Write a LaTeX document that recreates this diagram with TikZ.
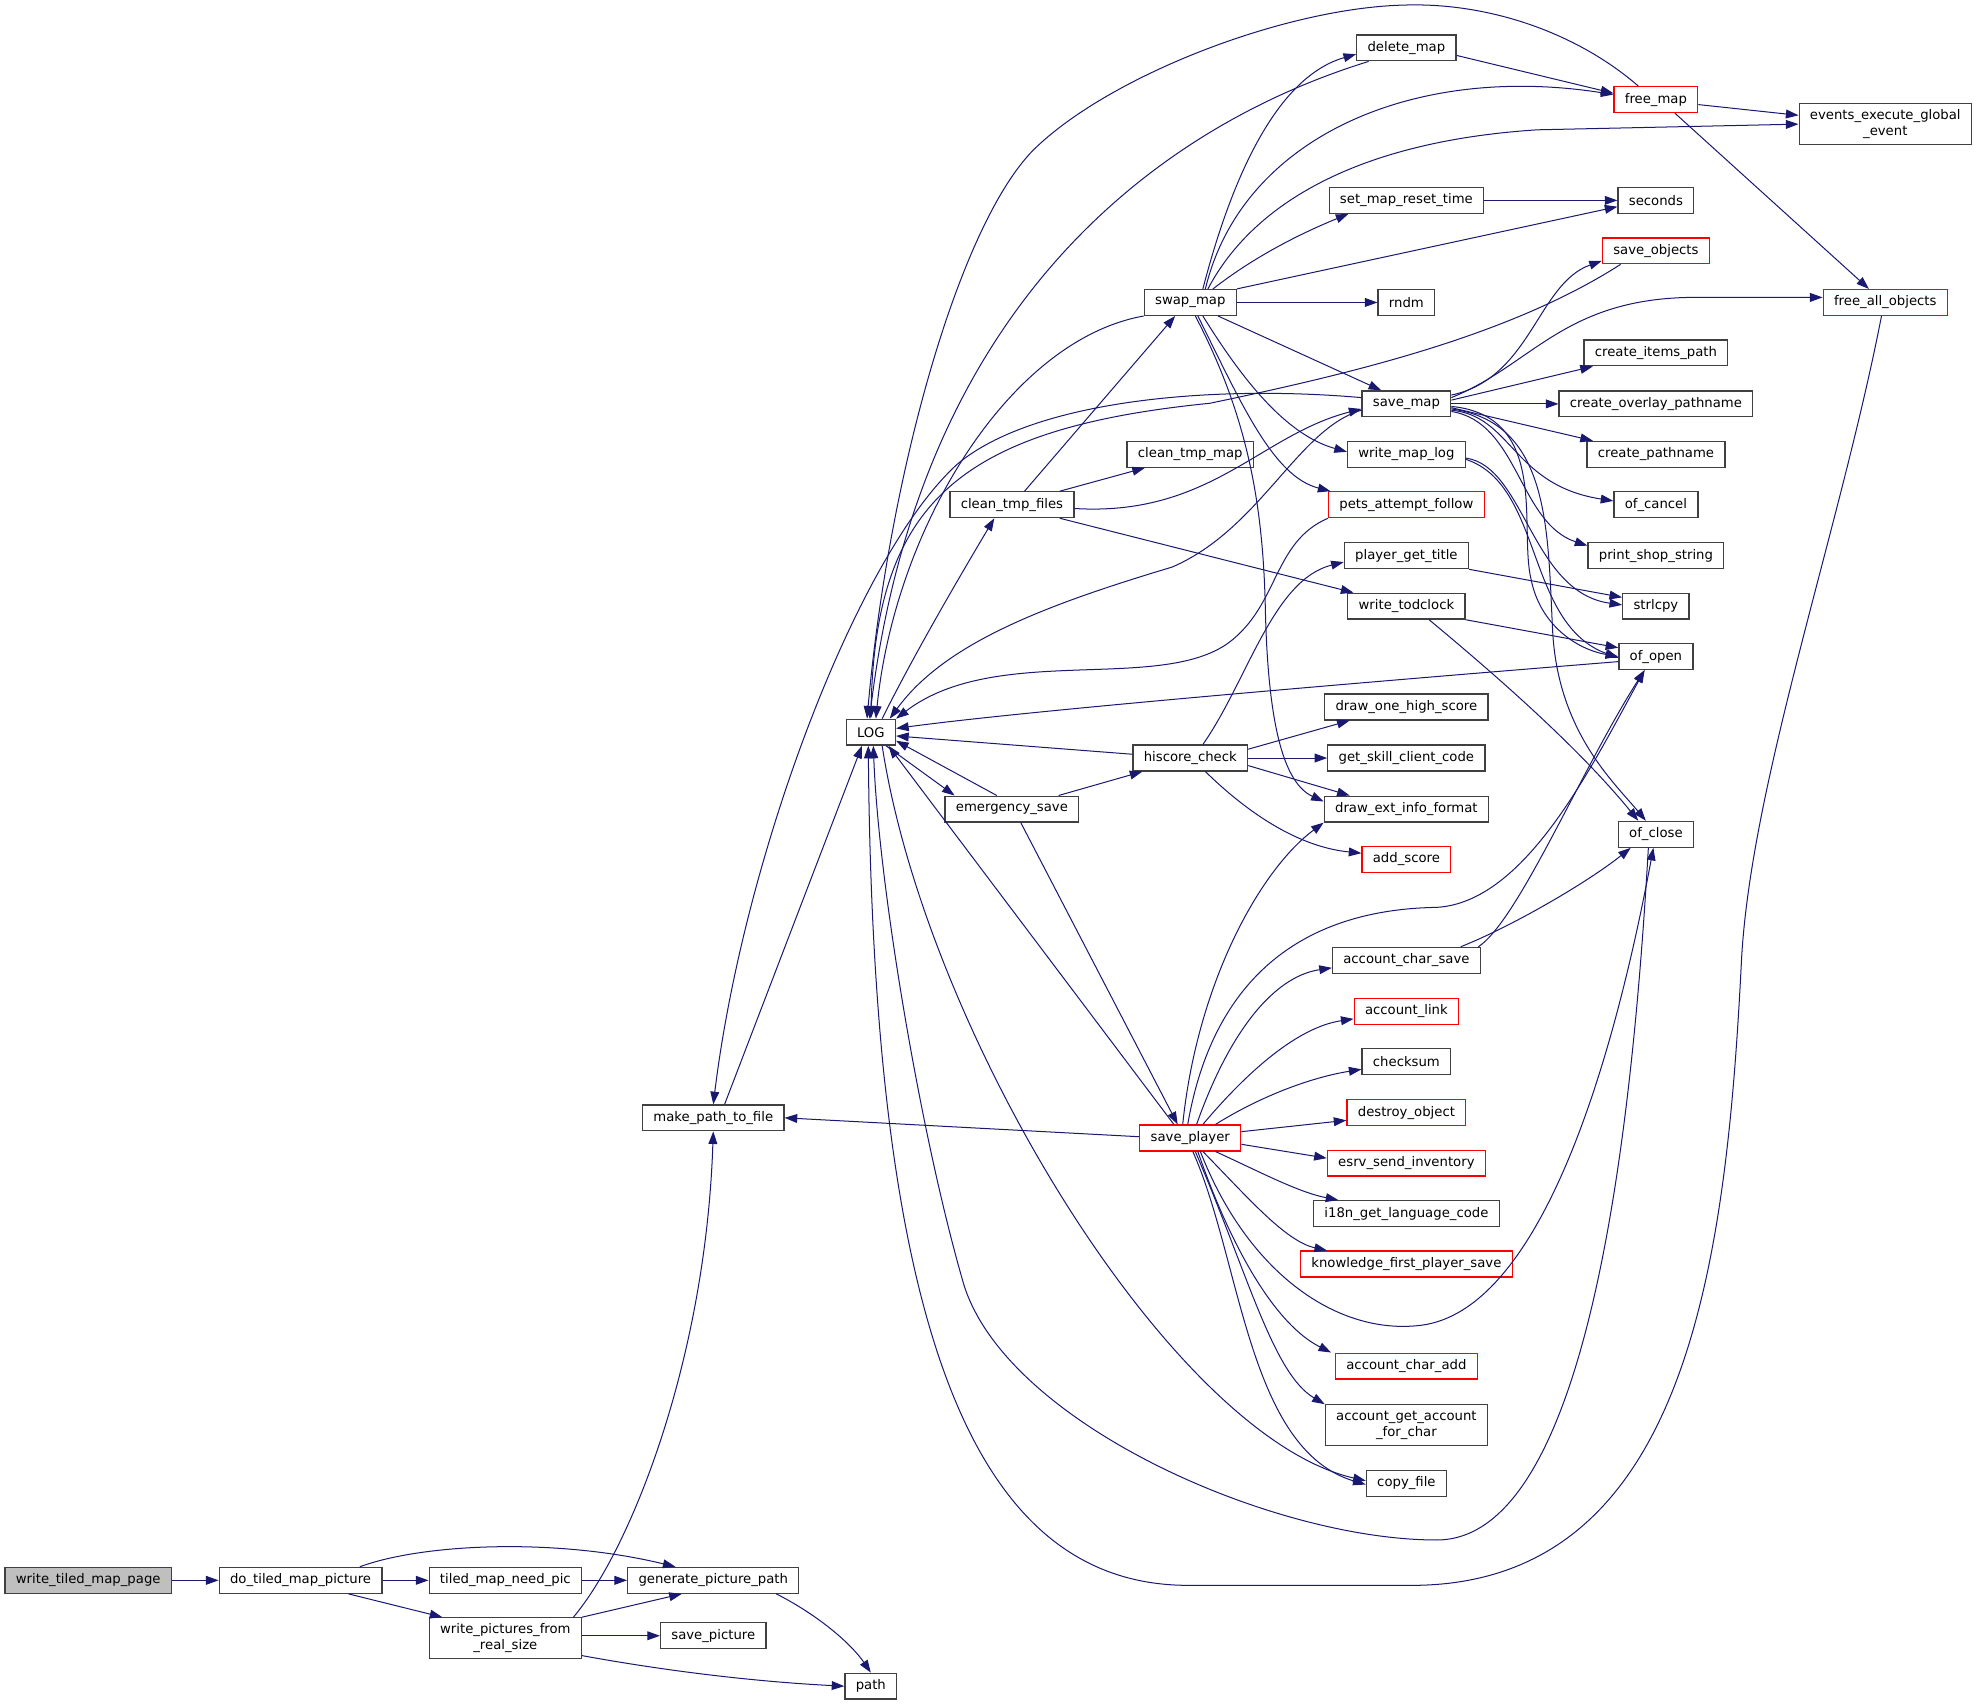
\documentclass[tikz,border=0pt]{standalone}
\usepackage{fontspec}
\newfontfamily\graphfont{DejaVu Sans}
\usetikzlibrary{arrows.meta}
\definecolor{callblue}{HTML}{191970}
\definecolor{boxgray}{HTML}{404040}
\definecolor{rootfill}{HTML}{BFBFBF}
\tikzset{
  fn/.style={draw=boxgray, line width=1pt, fill=white, inner xsep=8.6pt, inner ysep=3pt,
    minimum height=20.5pt, align=center, font=\graphfont\fontsize{10.5}{12.5}\selectfont},
  fnred/.style={fn, draw=red},
  fnroot/.style={fn, fill=rootfill},
  call/.style={draw=callblue, line width=0.8pt, -{Triangle[length=10pt,width=7pt]}}
}
\begin{document}
\begin{tikzpicture}[x=1pt,y=-1pt]
            \useasboundingbox (0,0) rectangle (1568,1353);

            % Functions
            \node[fnroot] (wtmp) at (70,1254) {write\_tiled\_map\_page};
            \node[fn] (dtmp) at (238.5,1254) {do\_tiled\_map\_picture};
            \node[fn] (tmnp) at (401,1254) {tiled\_map\_need\_pic};
            \node[fn] (gpp) at (566,1254) {generate\_picture\_path};
            \node[fn, minimum height=32.5pt] (wpfrs) at (401,1300) {write\_pictures\_from\\\_real\_size};
            \node[fn] (savepic) at (566,1298) {save\_picture};
            \node[fn] (path) at (691,1338) {path};
            \node[fn] (mptf) at (566,887) {make\_path\_to\_file};
            \node[fn] (log) at (691,581) {LOG};
            \node[fn] (ctf) at (803,400.5) {clean\_tmp\_files};
            \node[fn] (esave) at (803,642) {emergency\_save};
            \node[fn] (swapmap) at (944.5,240) {swap\_map};
            \node[fn] (ctm) at (944.5,360.5) {clean\_tmp\_map};
            \node[fn] (hsc) at (944.5,601.5) {hiscore\_check};
            \node[fnred] (splayer) at (944.5,903) {save\_player};
            \node[fn] (delmap) at (1116,38) {delete\_map};
            \node[fn] (smrt) at (1116,159) {set\_map\_reset\_time};
            \node[fn] (rndm) at (1116,240) {rndm};
            \node[fn] (savemap) at (1116,320.5) {save\_map};
            \node[fn] (wml) at (1116,360.5) {write\_map\_log};
            \node[fnred] (paf) at (1116,400.5) {pets\_attempt\_follow};
            \node[fn] (pgt) at (1116,441) {player\_get\_title};
            \node[fn] (wtc) at (1116,481) {write\_todclock};
            \node[fn] (dohs) at (1116,561) {draw\_one\_high\_score};
            \node[fn] (gscc) at (1116,601.5) {get\_skill\_client\_code};
            \node[fn] (deif) at (1116,642) {draw\_ext\_info\_format};
            \node[fnred] (addscore) at (1116,682) {add\_score};
            \node[fn] (acs) at (1116,762) {account\_char\_save};
            \node[fnred] (alink) at (1116,802.5) {account\_link};
            \node[fn] (checksum) at (1116,842.5) {checksum};
            \node[fnred] (dobj) at (1116,883) {destroy\_object};
            \node[fnred] (esi) at (1116,923) {esrv\_send\_inventory};
            \node[fn] (i18n) at (1116,963) {i18n\_get\_language\_code};
            \node[fnred] (kfps) at (1116,1003) {knowledge\_first\_player\_save};
            \node[fnred] (aca) at (1116,1084) {account\_char\_add};
            \node[fn, minimum height=32.5pt] (agaf) at (1116,1131) {account\_get\_account\\\_for\_char};
            \node[fn] (copyfile) at (1116,1177) {copy\_file};
            \node[fnred] (freemap) at (1314,79) {free\_map};
            \node[fn] (seconds) at (1314,159) {seconds};
            \node[fnred] (saveobj) at (1314,199) {save\_objects};
            \node[fn] (cip) at (1314,280) {create\_items\_path};
            \node[fn] (cop) at (1314,320.5) {create\_overlay\_pathname};
            \node[fn] (cpn) at (1314,360.5) {create\_pathname};
            \node[fn] (ofcancel) at (1314,400.5) {of\_cancel};
            \node[fn] (pss) at (1314,441) {print\_shop\_string};
            \node[fn] (strlcpy) at (1314,481) {strlcpy};
            \node[fn] (ofopen) at (1314,521) {of\_open};
            \node[fn] (ofclose) at (1314,662) {of\_close};
            \node[fn, minimum height=32.5pt] (eeg) at (1496,98.5) {events\_execute\_global\\\_event};
            \node[fnred] (freeall) at (1496,240) {free\_all\_objects};

            % Page writer
            \draw[call] (wtmp) -- (dtmp);
            \draw[call] (dtmp) -- (tmnp);
            \draw[call] ([xshift=47pt]dtmp.north) .. controls (335,1225) and (440,1220) .. ([xshift=-30pt]gpp.north);
            \draw[call] ([xshift=38pt]dtmp.south) -- ([xshift=-50pt]wpfrs.north);
            \draw[call] (tmnp) -- (gpp);
            \draw[call] (wpfrs.north east) -- ([xshift=-25pt]gpp.south);
            \draw[call] ([yshift=2pt]wpfrs.east) -- (savepic.west);
            \draw[call] ([yshift=3pt]wpfrs.south east) .. controls (540,1328) and (610,1335) .. (path.west);
            \draw[call] ([xshift=54pt]wpfrs.north) .. controls (500,1230) and (560,1080) .. (mptf.south);
            \draw[call] ([xshift=50pt]gpp.south) .. controls (650,1282) and (676,1305) .. (path.north);

            % make_path_to_file and LOG
            \draw[call] ([xshift=9pt]mptf.north) -- ([xshift=-7pt]log.south);
            \draw[call] ([yshift=1pt]splayer.west) -- (mptf.east);
            \draw[call] ([xshift=9pt]log.north) .. controls (725,520) and (760,460) .. ([xshift=-14pt]ctf.south);
            \draw[call] ([xshift=-8pt]log.south east) -- ([xshift=8pt]esave.north west);
            \draw[call] ([xshift=-12pt]esave.north) -- ([yshift=4pt]log.south east);
            \draw[call] ([xshift=37pt]esave.north) -- ([xshift=-38pt]hsc.south);
            \draw[call] ([xshift=7pt]esave.south) -- ([xshift=-10pt]splayer.north);
            \draw[call] ([xshift=-13pt]splayer.north) -- ([xshift=14pt]log.south);
            \draw[call] ([xshift=9pt]log.south) .. controls (735,820) and (930,1140) .. ([yshift=2pt]copyfile.west);

            % clean_tmp_files
            \draw[call] ([xshift=10pt]ctf.north) -- ([xshift=-12pt]swapmap.south);
            \draw[call] ([xshift=38pt]ctf.north) -- ([xshift=-36pt]ctm.south);
            \draw[call] ([yshift=-3pt]ctf.east) .. controls (960,410) and (1000,345) .. ([yshift=-4pt]savemap.west);
            \draw[call] ([xshift=38pt]ctf.south) -- ([xshift=-42pt]wtc.north);

            % swap_map
            \draw[call] ([xshift=10pt]swapmap.north) .. controls (975,150) and (1010,62) .. ([yshift=-5pt]delmap.west);
            \draw[call] ([xshift=12pt]swapmap.north) .. controls (985,110) and (1120,50) .. ([yshift=4pt]freemap.west);
            \draw[call] ([xshift=14pt]swapmap.north) .. controls (995,160) and (1080,112) .. (1220,103) -- (eeg.west);
            \draw[call] ([xshift=18pt]swapmap.north) .. controls (1000,200) and (1040,182) .. ([xshift=-46pt]smrt.south);
            \draw[call] (swapmap.north east) -- ([yshift=-5pt]seconds.west);
            \draw[call] (swapmap) -- (rndm);
            \draw[call] ([xshift=22pt]swapmap.south) -- ([xshift=-20pt]savemap.north);
            \draw[call] ([xshift=10pt]swapmap.south) .. controls (985,300) and (1020,345) .. ([yshift=2pt]wml.west);
            \draw[call] ([xshift=6pt]swapmap.south) .. controls (985,320) and (1010,378) .. ([xshift=2pt]paf.north west);
            \draw[call] ([xshift=4pt]swapmap.south) .. controls (990,330) and (1002,400) .. (1004,480)
                .. controls (1006,580) and (1020,622) .. ([yshift=6pt]deif.west);
            \draw[call] (swapmap.south west) .. controls (800,270) and (710,420) .. ([xshift=4pt]log.north);

            % delete_map, free_map, set_map_reset_time
            \draw[call] ([yshift=-6pt]delmap.east) -- ([yshift=5pt]freemap.west);
            \draw[call] ([xshift=-30pt]delmap.south) .. controls (920,100) and (730,240) .. ([xshift=-1pt]log.north);
            \draw[call] ([yshift=-4pt]freemap.east) -- ([yshift=7pt]eeg.west);
            \draw[call] ([xshift=15pt]freemap.south) -- ([xshift=-13pt]freeall.north);
            \draw[call] ([xshift=-14pt]freemap.north) .. controls (1250,25) and (1180,2) .. (1115,4)
                .. controls (1020,6) and (880,60) .. (820,119)
                .. controls (760,180) and (705,380) .. ([xshift=-3pt]log.north);
            \draw[call] (smrt) -- (seconds);

            % save_map
            \draw[call] ([yshift=7pt]savemap.east) .. controls (1215,300) and (1220,225) .. ([yshift=-8pt]saveobj.west);
            \draw[call] ([yshift=5pt]savemap.east) .. controls (1215,290) and (1240,238) .. (1340,236) -- ([yshift=4pt]freeall.west);
            \draw[call] ([yshift=3pt]savemap.east) -- ([xshift=-50pt]cip.south);
            \draw[call] (savemap) -- (cop);
            \draw[call] ([yshift=-3pt]savemap.east) -- ([xshift=-50pt]cpn.north);
            \draw[call] ([yshift=-5pt]savemap.east) .. controls (1200,330) and (1200,385) .. ([yshift=3pt]ofcancel.west);
            \draw[call] ([yshift=-6pt]savemap.east) .. controls (1205,335) and (1205,415) .. ([yshift=8pt]pss.west);
            \draw[call] ([yshift=-2pt]savemap.east) .. controls (1230,330) and (1205,420) .. (1215,460)
                .. controls (1222,495) and (1250,515) .. (ofopen.west);
            \draw[call] ([yshift=-4pt]savemap.east) .. controls (1230,335) and (1228,420) .. (1232,500)
                .. controls (1236,580) and (1280,620) .. ([xshift=-8pt]ofclose.north);
            \draw[call] ([yshift=5pt]savemap.west) .. controls (960,305) and (820,318) .. (760,368)
                .. controls (680,440) and (590,680) .. (mptf.north);
            \draw[call] ([yshift=-5pt]savemap.west) .. controls (1030,340) and (1000,420) .. (930,450)
                .. controls (830,480) and (750,510) .. ([xshift=-5pt]log.north east);
            \draw[call] ([xshift=-28pt]saveobj.south) .. controls (1200,265) and (1080,295) .. (960,320)
                .. controls (760,340) and (695,400) .. (log.north);

            % write_map_log, player_get_title, write_todclock
            \draw[call] ([yshift=-3pt]wml.east) .. controls (1210,370) and (1215,470) .. ([yshift=1pt]strlcpy.west);
            \draw[call] ([yshift=-4pt]wml.east) .. controls (1225,385) and (1210,495) .. ([yshift=-1pt]ofopen.west);
            \draw[call] (pgt.south east) -- ([yshift=7pt]strlcpy.west);
            \draw[call] (wtc.south east) -- ([yshift=7pt]ofopen.west);
            \draw[call] ([xshift=18pt]wtc.south) .. controls (1180,530) and (1250,590) .. ([xshift=-14pt]ofclose.north);

            % back to LOG
            \draw[call] ([yshift=-4pt]ofopen.west) .. controls (1000,548) and (800,566) .. ([yshift=3pt]log.east);
            \draw[call] ([xshift=-6pt]ofclose.south) .. controls (1295,900) and (1260,1222) .. (1140,1222)
                .. controls (1010,1222) and (800,1130) .. (765,1020)
                .. controls (730,900) and (697,700) .. ([xshift=2pt]log.south);
            \draw[call] ([xshift=-3pt]freeall.south) .. controls (1460,420) and (1390,620) .. (1382,760)
                .. controls (1370,1000) and (1340,1258) .. (1120,1258) -- (943,1258)
                .. controls (770,1258) and (693,1050) .. ([xshift=-2pt]log.south);
            \draw[call] (paf.south west) .. controls (1010,430) and (1015,480) .. (975,510)
                .. controls (920,550) and (790,510) .. (log.north east);

            % hiscore_check
            \draw[call] ([yshift=3pt]hsc.west) -- ([yshift=-3pt]log.east);
            \draw[call] ([xshift=10pt]hsc.north) .. controls (990,540) and (1010,460) .. ([yshift=-5pt]pgt.west);
            \draw[call] ([yshift=7pt]hsc.east) -- ([xshift=-45pt]dohs.south);
            \draw[call] (hsc) -- (gscc);
            \draw[call] ([yshift=-6pt]hsc.east) -- ([xshift=-45pt]deif.north);
            \draw[call] ([xshift=12pt]hsc.south) .. controls (990,645) and (1030,672) .. ([yshift=5pt]addscore.west);

            % save_player
            \draw[call] ([xshift=-6pt]splayer.north) .. controls (950,780) and (1000,690) .. (deif.south west);
            \draw[call] ([xshift=-2pt]splayer.north) .. controls (960,790) and (1020,722) .. (1140,720)
                .. controls (1210,716) and (1262,610) .. ([xshift=-9pt]ofopen.south);
            \draw[call] ([xshift=5pt]splayer.north) .. controls (975,820) and (1010,775) .. ([yshift=-6pt]acs.west);
            \draw[call] ([xshift=10pt]splayer.north) .. controls (990,850) and (1030,815) .. ([yshift=-6pt]alink.west);
            \draw[call] ([xshift=20pt]splayer.north) .. controls (1000,870) and (1040,855) .. ([yshift=-6pt]checksum.west);
            \draw[call] ([yshift=5pt]splayer.east) -- ([yshift=-6pt]dobj.west);
            \draw[call] ([yshift=-5pt]splayer.east) -- ([yshift=4pt]esi.west);
            \draw[call] ([xshift=20pt]splayer.south) .. controls (1000,930) and (1030,946) .. ([xshift=-54pt]i18n.north);
            \draw[call] ([xshift=10pt]splayer.south) .. controls (990,950) and (1020,985) .. ([xshift=-63pt]kfps.north);
            \draw[call] ([xshift=8pt]splayer.south) .. controls (990,1010) and (1060,1058) .. (1124,1052)
                .. controls (1215,1045) and (1275,870) .. ([xshift=-2pt]ofclose.south);
            \draw[call] ([xshift=6pt]splayer.south) .. controls (975,985) and (1010,1050) .. ([xshift=-3pt]aca.north west);
            \draw[call] ([xshift=4pt]splayer.south) .. controls (990,1010) and (1010,1090) .. (agaf.north west);
            \draw[call] ([xshift=2pt]splayer.south) .. controls (985,1000) and (990,1150) .. ([yshift=-1pt]copyfile.west);

            % account_char_save
            \draw[call] ([xshift=-2pt]acs.north east) .. controls (1205,730) and (1255,610) .. ([xshift=-9pt]ofopen.south);
            \draw[call] ([xshift=-16pt]acs.north east) .. controls (1200,735) and (1260,700) .. ([xshift=-20pt]ofclose.south);

        \end{tikzpicture}
\end{document}
